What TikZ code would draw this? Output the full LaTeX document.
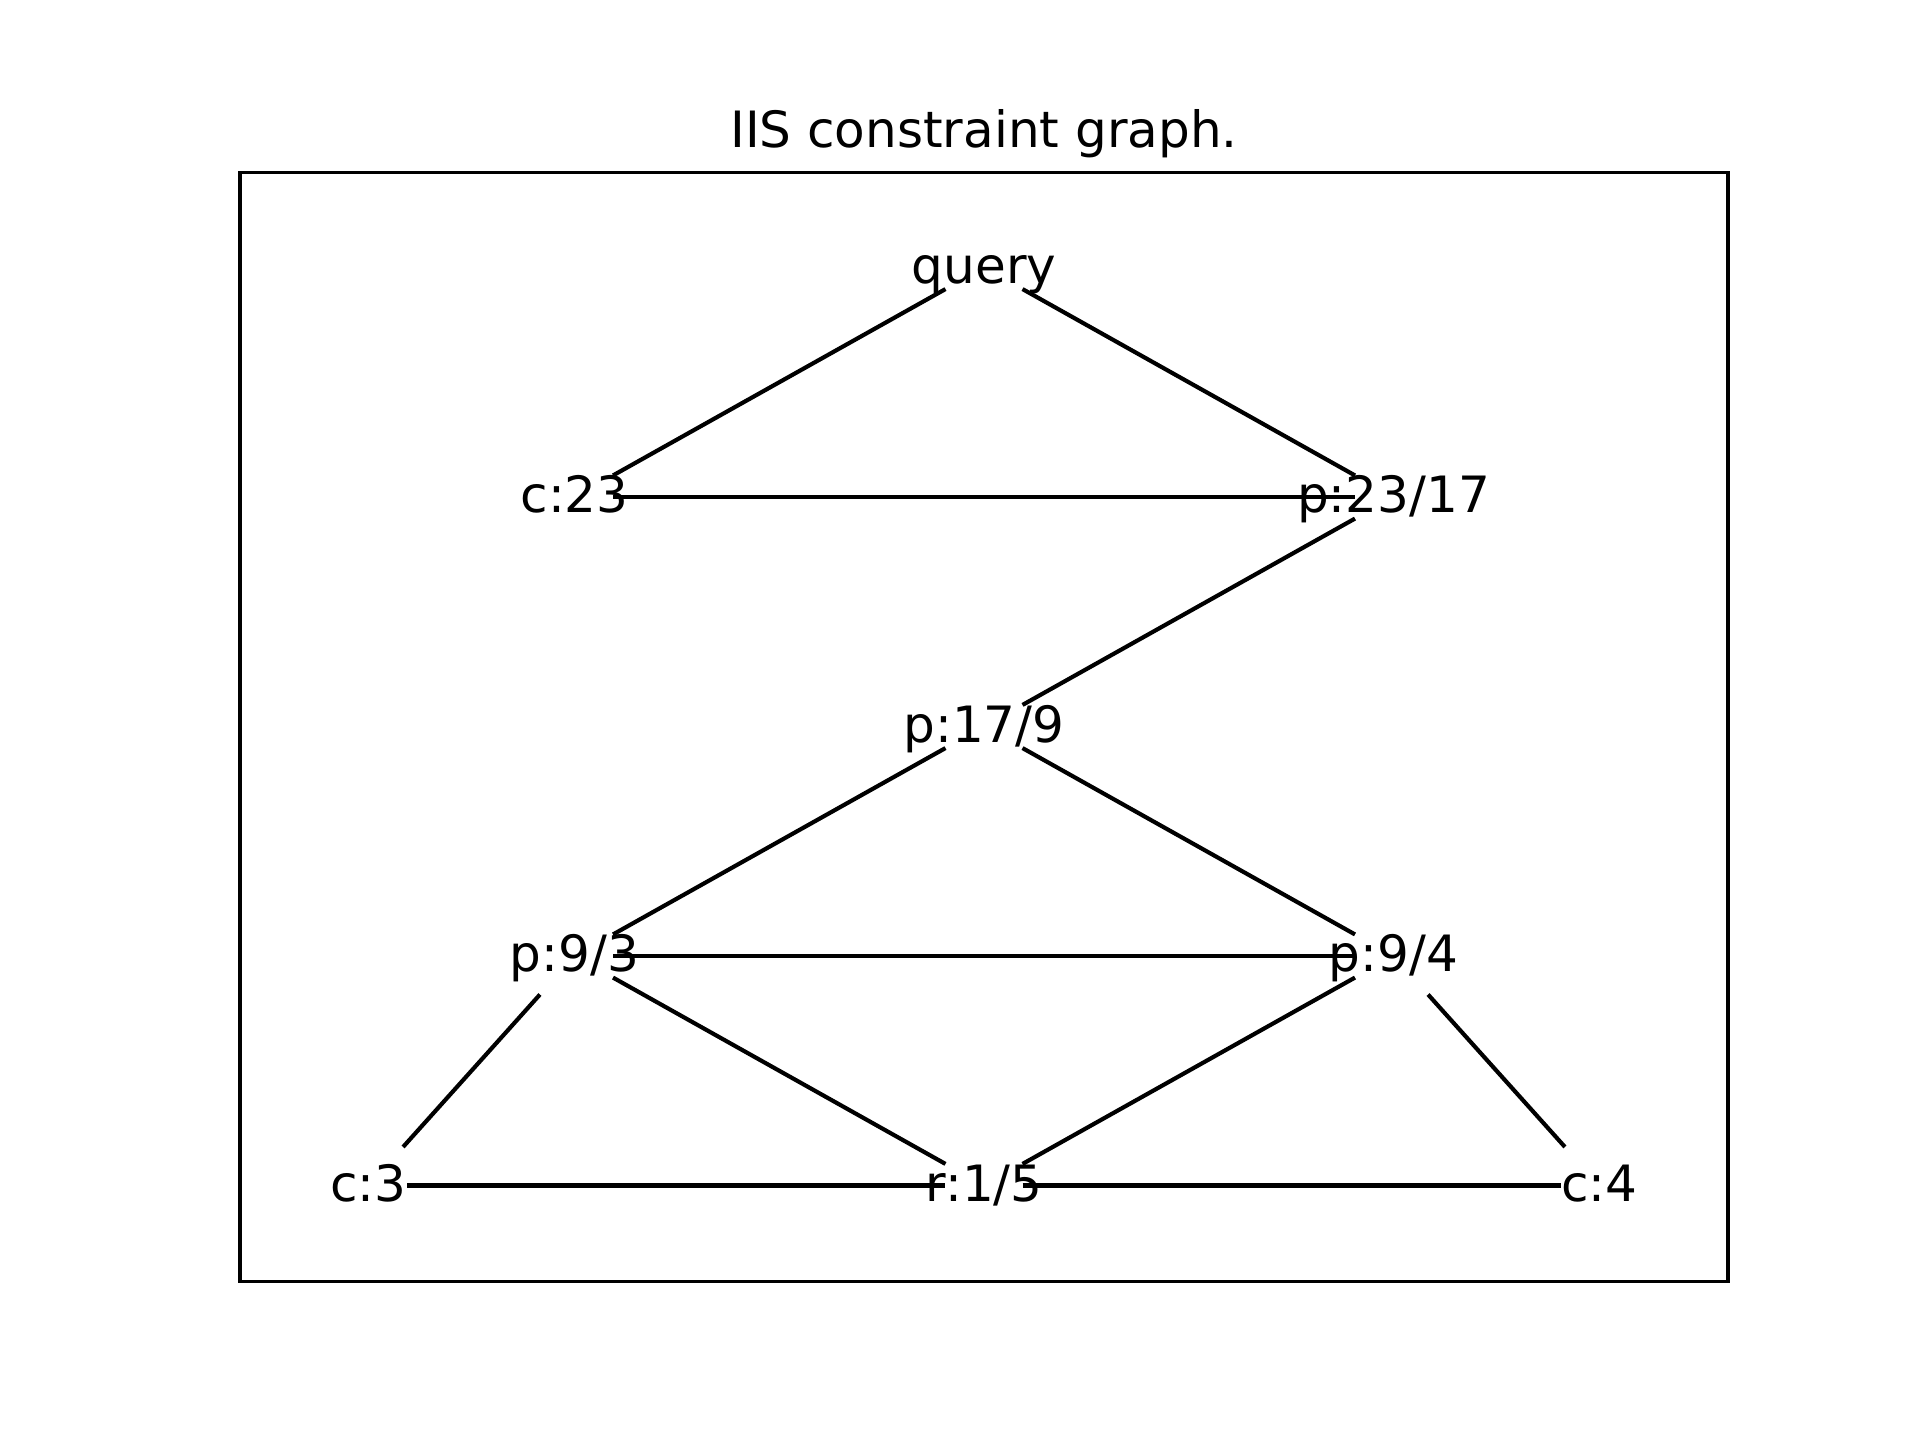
\documentclass[tikz,border=0pt]{standalone}
\usepackage{fontspec}
\setmainfont{DejaVu Sans}
\begin{document}
\begin{tikzpicture}[x=0.01cm, y=-0.01cm,
  vtx/.style={rectangle, minimum size=0.77cm, inner sep=0pt, outer sep=0pt},
  lbl/.style={inner sep=0pt, outer sep=0pt, text height=0.76em, text depth=0.236em,
              yshift=-0.065cm, font=\fontsize{14.23}{17}\selectfont},
  edge/.style={line width=1.18pt, black},
  frame/.style={line width=0.945pt, black}]
  \useasboundingbox (0,0) rectangle (1920,1440);
  % axes frame and title
  \draw[frame] (240,172.8) rectangle (1728,1281.6);
  \node[anchor=base, inner sep=0pt, font=\fontsize{14.23}{17}\selectfont] (title) at (984,148) {IIS constraint graph.};
  % vertices
  \node[vtx, label={[lbl]center:query}]   (q)    at (984,267.5)  {};
  \node[vtx, label={[lbl]center:c:23}]    (c23)  at (574.5,497)  {};
  \node[vtx, label={[lbl]center:p:23/17}] (p2317) at (1393.5,497) {};
  \node[vtx, label={[lbl]center:p:17/9}]  (p179) at (984,726.5)  {};
  \node[vtx, label={[lbl]center:p:9/3}]   (p93)  at (574.5,956)  {};
  \node[vtx, label={[lbl]center:p:9/4}]   (p94)  at (1393.5,956) {};
  \node[vtx, label={[lbl]center:c:3}]     (c3)   at (368.5,1185.5) {};
  \node[vtx, label={[lbl]center:r:1/5}]   (r15)  at (984,1185.5) {};
  \node[vtx, label={[lbl]center:c:4}]     (c4)   at (1599.5,1185.5) {};
  % edges
  \draw[edge] (q) -- (c23);
  \draw[edge] (q) -- (p2317);
  \draw[edge] (c23) -- (p2317);
  \draw[edge] (p2317) -- (p179);
  \draw[edge] (p179) -- (p93);
  \draw[edge] (p179) -- (p94);
  \draw[edge] (p93) -- (p94);
  \draw[edge] (p93) -- (c3);
  \draw[edge] (p93) -- (r15);
  \draw[edge] (p94) -- (r15);
  \draw[edge] (p94) -- (c4);
  \draw[edge] (c3) -- (r15);
  \draw[edge] (r15) -- (c4);
\end{tikzpicture}
\end{document}
